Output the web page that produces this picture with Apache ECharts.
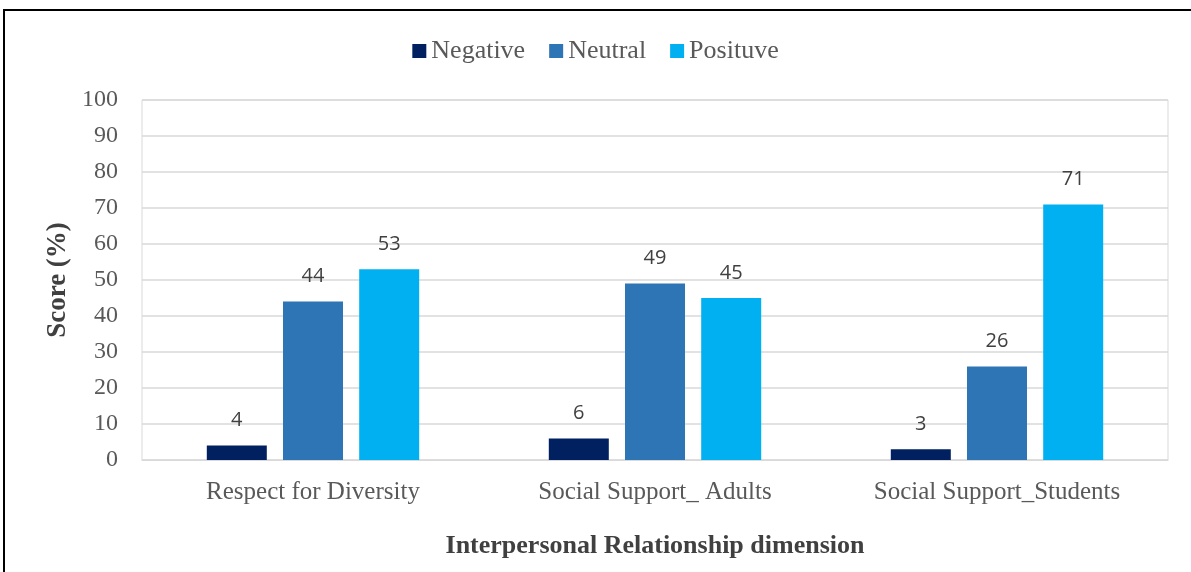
<!DOCTYPE html>
<html>
<head>
<meta charset="utf-8">
<script src="https://cdn.jsdelivr.net/npm/echarts@6/dist/echarts.min.js"></script>
<style>
  html, body { margin: 0; padding: 0; background: #fff; overflow: hidden; }
  #main { width: 1191px; height: 572px; }
  /* outer frame of the original figure */
  .frame {
    position: absolute; left: 3px; top: 9px;
    width: 1400px; height: 800px;
    border: 2px solid #000; pointer-events: none;
  }
</style>
</head>
<body>
<div id="main"></div>
<div class="frame"></div>
<script>
// chart data
const categories = ['Respect for Diversity', 'Social Support_ Adults', 'Social Support_Students'];
const seriesNames = ['Negative', 'Neutral', 'Posituve'];
const negative = [4, 6, 3];
const neutral = [44, 49, 26];
const positive = [53, 45, 71];

const serif = '"Liberation Serif", "Times New Roman", serif';
const sans = '"Open Sans", "Liberation Sans", sans-serif';

const chart = echarts.init(document.getElementById('main'));

const barLabel = {
    show: true,
    position: 'top',
    distance: 15,
    fontFamily: sans,
    fontSize: 20,
    color: '#404040'
};

const option = {
    animation: false,
    color: ['#002060', '#2E75B6', '#00B0F0'],
    legend: {
        top: 33,
        left: 'center',
        icon: 'rect',
        itemWidth: 14,
        itemHeight: 14,
        itemGap: 24,
        textStyle: { fontFamily: serif, fontSize: 26, color: '#595959' },
        data: seriesNames
    },
    grid: {
        left: 142,
        right: 23,
        top: 100,
        bottom: 112,
        show: true,
        borderColor: '#d9d9d9',
        borderWidth: 1
    },
    xAxis: {
        type: 'category',
        data: categories,
        name: 'Interpersonal Relationship dimension',
        nameLocation: 'middle',
        nameGap: 73,
        nameTextStyle: { fontFamily: serif, fontSize: 26, fontWeight: 'bold', color: '#404040' },
        axisLine: { lineStyle: { color: '#d9d9d9' } },
        axisTick: { show: false },
        axisLabel: { fontFamily: serif, fontSize: 25, color: '#595959', margin: 20 }
    },
    yAxis: {
        type: 'value',
        min: 0,
        max: 100,
        interval: 10,
        name: 'Score (%)',
        nameLocation: 'middle',
        nameGap: 70,
        nameTextStyle: { fontFamily: serif, fontSize: 27, fontWeight: 'bold', color: '#404040' },
        axisLine: { show: false },
        axisTick: { show: false },
        axisLabel: { fontFamily: serif, fontSize: 24, color: '#595959', margin: 24 },
        splitLine: { lineStyle: { color: '#d9d9d9', width: 1.5 } }
    },
    series: [
        { name: seriesNames[0], type: 'bar', data: negative, barWidth: 60, barGap: '27%', label: barLabel },
        { name: seriesNames[1], type: 'bar', data: neutral, barWidth: 60, barGap: '27%', label: barLabel },
        { name: seriesNames[2], type: 'bar', data: positive, barWidth: 60, barGap: '27%', label: barLabel }
    ]
};

chart.setOption(option);
window.addEventListener('resize', () => {
    chart.resize();
});
</script>
</body>
</html>
